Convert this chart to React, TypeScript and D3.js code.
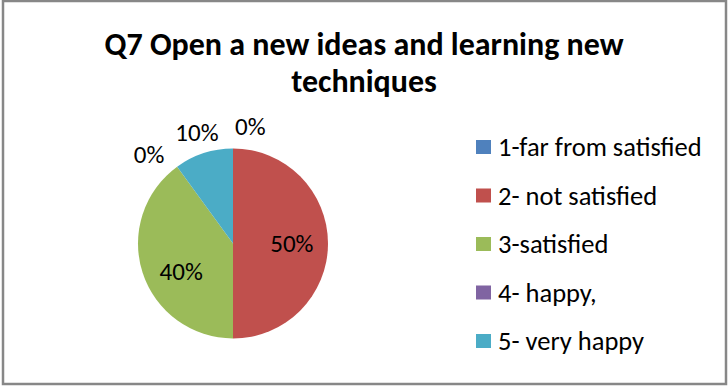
import React from "react";
import * as d3 from "d3";

const categories = ["1-far from satisfied", "2- not satisfied", "3-satisfied", "4- happy,", "5- very happy"];
const values = [0, 5, 4, 0, 1];
const colors = ["#4F81BD", "#C0504D", "#9BBB59", "#8064A2", "#4BACC6"];
const titleLines = ["Q7 Open a new ideas and learning new", "techniques"];

const W = 728;
const H = 387;
const FONT = "Calibri, Carlito, Lato, 'Open Sans', sans-serif";

export default function App() {
  const cx = 233;
  const cy = 243.5;
  const r = 95;
  const total = d3.sum(values);

  const pie = d3
    .pie<number>()
    .sort(null)
    .value(d => d)
    .startAngle(0)
    .endAngle(2 * Math.PI);
  const arcs = pie(values);
  const arc = d3.arc<d3.PieArcDatum<number>>().innerRadius(0).outerRadius(r);
  const fmt = d3.format(".0%");

  const legendY = d3
    .scalePoint<string>()
    .domain(categories)
    .range([147, 341]);

  const labelSize = 25;

  return (
    <svg
      width={W}
      height={H}
      style={{ position: "absolute", left: 0, top: 0, fontFamily: FONT }}
    >
      <rect x={0} y={0} width={W} height={H} fill="#fff" />
      <rect x={3} y={1} width={723} height={383} fill="none" stroke="#878787" strokeWidth={2.5} />

      {titleLines.map((t, i) => (
        <text
          key={i}
          x={364}
          y={55 + i * 37}
          textAnchor="middle"
          fontWeight="bold"
          fontSize={32}
          fill="#000"
        >
          {t}
        </text>
      ))}

      <g transform={`translate(${cx},${cy})`}>
        {arcs.map((a, i) =>
          a.value > 0 ? <path key={i} d={arc(a) || ""} fill={colors[i]} /> : null
        )}
        {arcs.map((a, i) => {
          const mid = (a.startAngle + a.endAngle) / 2;
          const share = a.value / total;
          const label = fmt(share);
          if (share >= 0.2) {
            const rr = r * 0.62;
            // Excel's best-fit nudges the lower-left label slightly further round
            const ang = mid > Math.PI ? mid - 0.18 : mid;
            return (
              <text
                key={"l" + i}
                x={Math.sin(ang) * rr}
                y={-Math.cos(ang) * rr}
                dy="0.35em"
                textAnchor="middle"
                fontSize={labelSize}
                fill="#000"
              >
                {label}
              </text>
            );
          }
          const rr = r * 1.23;
          const x = Math.sin(mid) * rr;
          const y = -Math.cos(mid) * rr;
          let anchor = "middle";
          if (a.value === 0) anchor = x >= -1 ? "start" : "end";
          return (
            <text
              key={"l" + i}
              x={a.value === 0 && anchor === "start" ? x + 2 : x}
              y={a.value === 0 && anchor === "end" ? y + 5 : y}
              dy="0.35em"
              textAnchor={anchor}
              fontSize={labelSize}
              fill="#000"
            >
              {label}
            </text>
          );
        })}
      </g>

      {categories.map((c, i) => (
        <g key={c} transform={`translate(476,${legendY(c)})`}>
          <rect x={0} y={-7} width={15} height={14} fill={colors[i]} />
          <text x={22} y={0} dy="0.35em" fontSize={26.5} fill="#000">
            {c}
          </text>
        </g>
      ))}
    </svg>
  );
}
